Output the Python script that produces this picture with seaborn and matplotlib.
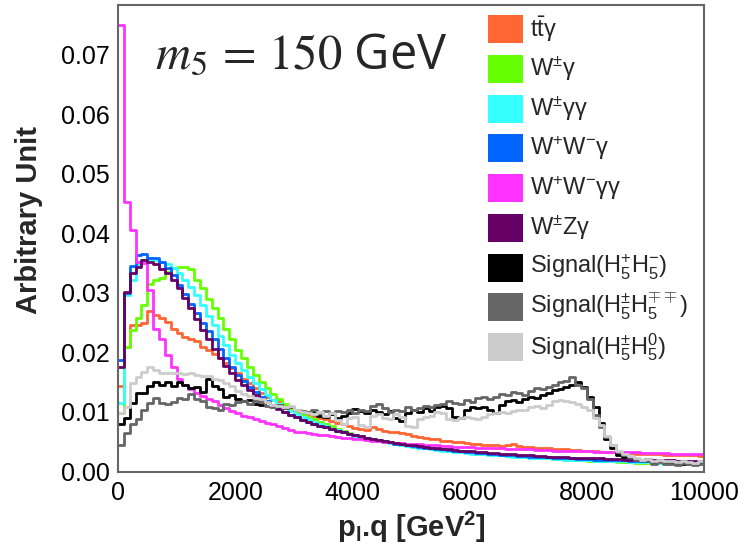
import numpy as np
import pandas as pd
import matplotlib
matplotlib.use("Agg")
import matplotlib.pyplot as plt
import seaborn as sns
from matplotlib.patches import Rectangle
from matplotlib.ticker import MultipleLocator, FormatStrFormatter

# ---------------- data (100 bins of 100 GeV^2 from 0 to 10000) ----------------
x_min, x_max, bin_width = 0, 10000, 100

ttg = [0.0143, 0.0210, 0.0246, 0.0246, 0.0250, 0.0269, 0.0263, 0.0258, 0.0252, 0.0240,
       0.0232, 0.0226, 0.0222, 0.0220, 0.0210, 0.0204, 0.0198, 0.0190, 0.0182, 0.0174,
       0.0165, 0.0155, 0.0148, 0.0140, 0.0132, 0.0126, 0.0120, 0.0118, 0.0112, 0.0108,
       0.0104, 0.0100, 0.0096, 0.0094, 0.0090, 0.0088, 0.0085, 0.0082, 0.0080, 0.0076,
       0.0073, 0.0072, 0.0070, 0.0074, 0.0072, 0.0068, 0.0066, 0.0066, 0.0065, 0.0063,
       0.0060, 0.0058, 0.0057, 0.0055, 0.0054, 0.0052, 0.0051, 0.0050, 0.0049, 0.0048,
       0.0047, 0.0046, 0.0045, 0.0045, 0.0044, 0.0043, 0.0044, 0.0047, 0.0043, 0.0042,
       0.0041, 0.0040, 0.0040, 0.0039, 0.0038, 0.0038, 0.0037, 0.0036, 0.0036, 0.0035,
       0.0035, 0.0034, 0.0033, 0.0033, 0.0032, 0.0032, 0.0031, 0.0031, 0.0030, 0.0030,
       0.0029, 0.0029, 0.0029, 0.0028, 0.0028, 0.0028, 0.0027, 0.0027, 0.0027, 0.0026]

wg = [0.0098, 0.0210, 0.0238, 0.0258, 0.0280, 0.0315, 0.0322, 0.0326, 0.0336, 0.0342,
      0.0344, 0.0344, 0.0340, 0.0322, 0.0308, 0.0290, 0.0274, 0.0258, 0.0240, 0.0222,
      0.0205, 0.0190, 0.0176, 0.0163, 0.0150, 0.0140, 0.0130, 0.0122, 0.0114, 0.0107,
      0.0101, 0.0096, 0.0092, 0.0088, 0.0084, 0.0080, 0.0076, 0.0072, 0.0068, 0.0065,
      0.0062, 0.0060, 0.0057, 0.0055, 0.0053, 0.0051, 0.0049, 0.0047, 0.0045, 0.0044,
      0.0042, 0.0041, 0.0040, 0.0038, 0.0037, 0.0036, 0.0035, 0.0034, 0.0033, 0.0032,
      0.0031, 0.0030, 0.0030, 0.0029, 0.0028, 0.0027, 0.0026, 0.0026, 0.0025, 0.0024,
      0.0024, 0.0023, 0.0022, 0.0022, 0.0021, 0.0021, 0.0020, 0.0020, 0.0019, 0.0019,
      0.0018, 0.0018, 0.0018, 0.0017, 0.0017, 0.0016, 0.0016, 0.0016, 0.0015, 0.0015,
      0.0015, 0.0015, 0.0014, 0.0014, 0.0014, 0.0014, 0.0013, 0.0013, 0.0013, 0.0013]

wgg = [0.0115, 0.0297, 0.0322, 0.0348, 0.0356, 0.0354, 0.0355, 0.0352, 0.0348, 0.0342,
       0.0334, 0.0322, 0.0310, 0.0296, 0.0280, 0.0262, 0.0246, 0.0228, 0.0212, 0.0196,
       0.0182, 0.0170, 0.0158, 0.0148, 0.0138, 0.0128, 0.0120, 0.0113, 0.0107, 0.0101,
       0.0096, 0.0092, 0.0088, 0.0084, 0.0080, 0.0076, 0.0072, 0.0069, 0.0066, 0.0063,
       0.0060, 0.0058, 0.0056, 0.0054, 0.0052, 0.0050, 0.0048, 0.0046, 0.0045, 0.0043,
       0.0042, 0.0040, 0.0039, 0.0038, 0.0036, 0.0035, 0.0034, 0.0033, 0.0032, 0.0031,
       0.0030, 0.0030, 0.0029, 0.0028, 0.0027, 0.0027, 0.0026, 0.0025, 0.0025, 0.0024,
       0.0023, 0.0023, 0.0022, 0.0022, 0.0021, 0.0021, 0.0020, 0.0020, 0.0019, 0.0019,
       0.0019, 0.0018, 0.0018, 0.0018, 0.0017, 0.0017, 0.0017, 0.0016, 0.0016, 0.0016,
       0.0016, 0.0015, 0.0015, 0.0015, 0.0015, 0.0015, 0.0014, 0.0014, 0.0014, 0.0014]

wwg = [0.0187, 0.0300, 0.0345, 0.0364, 0.0365, 0.0358, 0.0358, 0.0352, 0.0342, 0.0330,
       0.0314, 0.0298, 0.0282, 0.0266, 0.0250, 0.0236, 0.0222, 0.0206, 0.0190, 0.0176,
       0.0163, 0.0152, 0.0142, 0.0133, 0.0125, 0.0118, 0.0112, 0.0106, 0.0100, 0.0095,
       0.0091, 0.0087, 0.0084, 0.0080, 0.0077, 0.0074, 0.0071, 0.0068, 0.0066, 0.0063,
       0.0061, 0.0059, 0.0057, 0.0055, 0.0053, 0.0051, 0.0049, 0.0047, 0.0046, 0.0044,
       0.0043, 0.0042, 0.0040, 0.0039, 0.0038, 0.0037, 0.0036, 0.0035, 0.0034, 0.0033,
       0.0032, 0.0031, 0.0031, 0.0030, 0.0029, 0.0028, 0.0028, 0.0027, 0.0026, 0.0026,
       0.0025, 0.0025, 0.0024, 0.0024, 0.0023, 0.0023, 0.0022, 0.0022, 0.0021, 0.0021,
       0.0021, 0.0020, 0.0020, 0.0020, 0.0019, 0.0019, 0.0019, 0.0018, 0.0018, 0.0018,
       0.0018, 0.0017, 0.0017, 0.0017, 0.0017, 0.0016, 0.0016, 0.0016, 0.0016, 0.0016]

wwgg = [0.0750, 0.0453, 0.0406, 0.0352, 0.0350, 0.0305, 0.0240, 0.0222, 0.0195, 0.0175,
        0.0155, 0.0145, 0.0138, 0.0132, 0.0127, 0.0122, 0.0118, 0.0112, 0.0106, 0.0102,
        0.0098, 0.0094, 0.0091, 0.0088, 0.0085, 0.0082, 0.0079, 0.0077, 0.0073, 0.0070,
        0.0067, 0.0066, 0.0064, 0.0063, 0.0062, 0.0061, 0.0060, 0.0058, 0.0057, 0.0056,
        0.0055, 0.0054, 0.0053, 0.0052, 0.0051, 0.0050, 0.0049, 0.0048, 0.0048, 0.0047,
        0.0046, 0.0046, 0.0045, 0.0044, 0.0044, 0.0043, 0.0043, 0.0042, 0.0042, 0.0041,
        0.0041, 0.0040, 0.0040, 0.0039, 0.0039, 0.0039, 0.0038, 0.0038, 0.0037, 0.0037,
        0.0037, 0.0036, 0.0036, 0.0036, 0.0035, 0.0035, 0.0035, 0.0034, 0.0034, 0.0034,
        0.0034, 0.0033, 0.0033, 0.0033, 0.0033, 0.0032, 0.0032, 0.0032, 0.0032, 0.0031,
        0.0031, 0.0031, 0.0031, 0.0031, 0.0030, 0.0030, 0.0030, 0.0030, 0.0030, 0.0030]

wzg = [0.0176, 0.0302, 0.0333, 0.0344, 0.0355, 0.0352, 0.0348, 0.0341, 0.0333, 0.0322,
       0.0308, 0.0292, 0.0274, 0.0256, 0.0238, 0.0222, 0.0206, 0.0191, 0.0177, 0.0165,
       0.0154, 0.0145, 0.0137, 0.0129, 0.0122, 0.0116, 0.0110, 0.0105, 0.0100, 0.0095,
       0.0091, 0.0087, 0.0084, 0.0080, 0.0077, 0.0074, 0.0071, 0.0068, 0.0066, 0.0063,
       0.0061, 0.0059, 0.0057, 0.0055, 0.0053, 0.0051, 0.0050, 0.0048, 0.0047, 0.0045,
       0.0044, 0.0043, 0.0042, 0.0040, 0.0039, 0.0038, 0.0037, 0.0036, 0.0035, 0.0034,
       0.0034, 0.0033, 0.0032, 0.0031, 0.0031, 0.0030, 0.0029, 0.0029, 0.0028, 0.0027,
       0.0027, 0.0026, 0.0026, 0.0025, 0.0025, 0.0024, 0.0024, 0.0023, 0.0023, 0.0023,
       0.0022, 0.0022, 0.0022, 0.0021, 0.0021, 0.0021, 0.0020, 0.0020, 0.0020, 0.0020,
       0.0019, 0.0019, 0.0019, 0.0019, 0.0019, 0.0018, 0.0018, 0.0018, 0.0018, 0.0018]

sig_pm = [0.0080, 0.0090, 0.0115, 0.0132, 0.0132, 0.0143, 0.0151, 0.0146, 0.0151, 0.0143,
          0.0151, 0.0146, 0.0140, 0.0142, 0.0134, 0.0156, 0.0143, 0.0138, 0.0126, 0.0128,
          0.0122, 0.0118, 0.0120, 0.0114, 0.0112, 0.0116, 0.0110, 0.0112, 0.0106, 0.0108,
          0.0104, 0.0100, 0.0098, 0.0102, 0.0094, 0.0092, 0.0096, 0.0090, 0.0093, 0.0098,
          0.0105, 0.0101, 0.0098, 0.0104, 0.0100, 0.0096, 0.0102, 0.0090, 0.0085, 0.0098,
          0.0104, 0.0100, 0.0106, 0.0102, 0.0108, 0.0110, 0.0106, 0.0092, 0.0090, 0.0104,
          0.0108, 0.0106, 0.0108, 0.0104, 0.0099, 0.0112, 0.0118, 0.0120, 0.0116, 0.0122,
          0.0126, 0.0124, 0.0128, 0.0132, 0.0137, 0.0138, 0.0142, 0.0146, 0.0151, 0.0142,
          0.0126, 0.0109, 0.0081, 0.0055, 0.0040, 0.0028, 0.0025, 0.0024, 0.0020, 0.0019,
          0.0021, 0.0016, 0.0018, 0.0014, 0.0016, 0.0015, 0.0013, 0.0015, 0.0014, 0.0016]

sig_ppmm = [0.0045, 0.0065, 0.0080, 0.0088, 0.0103, 0.0115, 0.0123, 0.0115, 0.0114, 0.0116,
            0.0123, 0.0122, 0.0130, 0.0122, 0.0118, 0.0108, 0.0106, 0.0104, 0.0114, 0.0112,
            0.0116, 0.0118, 0.0114, 0.0118, 0.0116, 0.0110, 0.0108, 0.0111, 0.0106, 0.0109,
            0.0104, 0.0102, 0.0100, 0.0104, 0.0098, 0.0101, 0.0098, 0.0102, 0.0100, 0.0104,
            0.0098, 0.0104, 0.0102, 0.0110, 0.0114, 0.0106, 0.0100, 0.0104, 0.0102, 0.0108,
            0.0104, 0.0106, 0.0110, 0.0108, 0.0112, 0.0114, 0.0118, 0.0115, 0.0114, 0.0120,
            0.0116, 0.0124, 0.0126, 0.0122, 0.0126, 0.0130, 0.0128, 0.0134, 0.0132, 0.0128,
            0.0136, 0.0140, 0.0138, 0.0142, 0.0146, 0.0150, 0.0152, 0.0159, 0.0145, 0.0140,
            0.0122, 0.0095, 0.0075, 0.0058, 0.0045, 0.0032, 0.0028, 0.0024, 0.0020, 0.0019,
            0.0018, 0.0013, 0.0016, 0.0012, 0.0013, 0.0011, 0.0014, 0.0012, 0.0011, 0.0013]

sig_pm0 = [0.0098, 0.0109, 0.0149, 0.0159, 0.0168, 0.0176, 0.0171, 0.0165, 0.0166, 0.0165,
           0.0165, 0.0164, 0.0166, 0.0162, 0.0160, 0.0161, 0.0156, 0.0154, 0.0148, 0.0143,
           0.0136, 0.0130, 0.0127, 0.0124, 0.0122, 0.0116, 0.0112, 0.0110, 0.0108, 0.0110,
           0.0104, 0.0100, 0.0098, 0.0096, 0.0100, 0.0094, 0.0098, 0.0086, 0.0080, 0.0090,
           0.0092, 0.0078, 0.0075, 0.0094, 0.0096, 0.0090, 0.0088, 0.0096, 0.0092, 0.0076,
           0.0074, 0.0088, 0.0092, 0.0094, 0.0100, 0.0098, 0.0088, 0.0086, 0.0090, 0.0092,
           0.0090, 0.0088, 0.0092, 0.0096, 0.0098, 0.0100, 0.0098, 0.0102, 0.0104, 0.0103,
           0.0108, 0.0110, 0.0106, 0.0112, 0.0118, 0.0120, 0.0119, 0.0116, 0.0114, 0.0108,
           0.0104, 0.0090, 0.0078, 0.0060, 0.0045, 0.0035, 0.0030, 0.0026, 0.0022, 0.0020,
           0.0021, 0.0018, 0.0019, 0.0017, 0.0018, 0.0016, 0.0017, 0.0016, 0.0015, 0.0017]

series_labels = [r"t$\mathrm{\bar{t}}$γ", r"W$^{\pm}$γ", r"W$^{\pm}$γγ", r"W$^{+}$W$^{-}$γ",
                 r"W$^{+}$W$^{-}$γγ", r"W$^{\pm}$Zγ", r"Signal(H$_5^{+}$H$_5^{-}$)",
                 r"Signal(H$_5^{\pm}$H$_5^{\mp\mp}$)", r"Signal(H$_5^{\pm}$H$_5^{0}$)"]
series_values = [ttg, wg, wgg, wwg, wwgg, wzg, sig_pm, sig_ppmm, sig_pm0]
series_colors = ["#ff6633", "#66ff00", "#33ffff", "#0066ff", "#ff33ff", "#660066",
                 "#000000", "#666666", "#cccccc"]

x_ticks = [0, 2000, 4000, 6000, 8000, 10000]
y_ticks = [0.00, 0.01, 0.02, 0.03, 0.04, 0.05, 0.06, 0.07]

# ---------------- style ----------------
sns.set_style("white")
plt.rcParams["font.family"] = ["Liberation Sans", "DejaVu Sans"]
plt.rcParams["mathtext.fontset"] = "custom"
plt.rcParams["mathtext.rm"] = "Liberation Sans"
plt.rcParams["mathtext.it"] = "Liberation Sans:italic"
plt.rcParams["mathtext.bf"] = "Liberation Sans:bold"

W, H = 756, 552
fig = plt.figure(figsize=(W / 100, H / 100), dpi=100)
ax_l, ax_r, ax_t, ax_b = 118, 704, 5, 471.5
ax = fig.add_axes([ax_l / W, 1 - ax_b / H, (ax_r - ax_l) / W, (ax_b - ax_t) / H])

edges = list(np.arange(x_min, x_max + bin_width, bin_width).astype(float))
centers = [e + bin_width / 2 for e in edges[:-1]]

for vals, col in zip(series_values, series_colors):
    df = pd.DataFrame({"q": centers, "w": vals})
    sns.histplot(data=df, x="q", weights="w", bins=edges, element="step", fill=False,
                 color=col, linewidth=2.0, ax=ax)

ax.set_xlim(0, 10000)
ax.set_ylim(0, 0.0784)
ax.set_xticks(x_ticks)
ax.set_yticks(y_ticks)
ax.yaxis.set_major_formatter(FormatStrFormatter("%.2f"))
ax.xaxis.set_minor_locator(MultipleLocator(500))
ax.yaxis.set_minor_locator(MultipleLocator(0.002))
ax.tick_params(axis="both", which="both", direction="in", colors="#333333",
               labelcolor="black", width=1.3, labelsize=18)
ax.tick_params(axis="y", which="major", length=13, pad=6)
ax.tick_params(axis="y", which="minor", length=6.5)
ax.tick_params(axis="x", which="major", length=11, pad=7)
ax.tick_params(axis="x", which="minor", length=5.5)
ax.tick_params(top=False, right=False, which="both")
for sp in ax.spines.values():
    sp.set_color("#666666")
    sp.set_linewidth(1.5)

ax.set_ylabel("Arbitrary Unit", fontsize=21, fontweight="bold")
ax.yaxis.set_label_coords(-0.128, 0.54)
ax.set_xlabel(r"p$_{\mathbf{l}}$.q [GeV$^{\mathbf{2}}$]", fontsize=21, fontweight="bold")
ax.xaxis.set_label_coords(0.5, -0.083)

# annotation
fig.text(155 / W, 1 - 68 / H, r"$m_5\,=\,150$ GeV", fontsize=35, math_fontfamily="stix",
         family=["Open Sans", "DejaVu Sans"], ha="left", va="baseline")

# legend (manual, ROOT-like filled boxes)
y0, dy = 29, 39.75
for i, (lab, col) in enumerate(zip(series_labels, series_colors)):
    yc = y0 + i * dy
    fig.patches.append(Rectangle((488 / W, 1 - (yc + 14) / H), 35 / W, 28 / H,
                                 transform=fig.transFigure, facecolor=col,
                                 edgecolor="none", figure=fig))
    fig.text(530 / W, 1 - yc / H, lab, fontsize=17, ha="left", va="center")

fig.savefig("out.png", dpi=100)
